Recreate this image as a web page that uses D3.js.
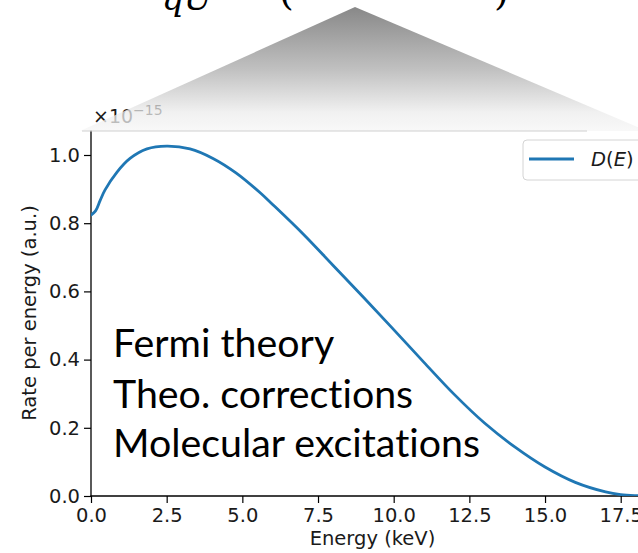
<!DOCTYPE html>
<html>
<head>
<meta charset="utf-8">
<script src="https://cdn.jsdelivr.net/npm/d3@7/dist/d3.min.js"></script>
<style>
  html, body { margin: 0; padding: 0; background: #ffffff; }
  svg { display: block; }
</style>
</head>
<body>
<svg id="chart" width="638" height="553"></svg>
<script>
// ---- data ----
const energy = [0, 0.15, 0.3, 0.46, 0.86, 1.29, 1.85, 2.5, 3.27, 4.03, 4.8, 5.58, 6, 7, 8, 9, 10, 11, 12, 13, 14, 15, 16, 17, 17.5, 18, 18.6];
const rate   = [0.824, 0.836, 0.866, 0.897, 0.950, 0.990, 1.018, 1.026, 1.018, 0.990, 0.947, 0.890, 0.855, 0.769, 0.676, 0.583, 0.488, 0.392, 0.298, 0.214, 0.144, 0.085, 0.040, 0.012, 0.004, 0.001, 0.0];
const xTicks = [0, 2.5, 5, 7.5, 10, 12.5, 15, 17.5];
const yTicks = [0, 0.2, 0.4, 0.6, 0.8, 1.0];
const seriesName = "D(E)";
const annotations = ["Fermi theory", "Theo. corrections", "Molecular excitations"];

(function () {
const svg = d3.select("#chart");
const pL = 91, pR = 654, pT = 130, pB = 496;

const x = d3.scaleLinear().domain([0, 18.6]).range([pL, pR]);
const y = d3.scaleLinear().domain([0, 1.0733]).range([pB, pT]);

const tickFont = "'DejaVu Sans', sans-serif";
const defs = svg.append("defs");

// axes
const xAxis = svg.append("g").attr("transform", `translate(0,${pB})`)
  .call(d3.axisBottom(x).tickValues(xTicks).tickFormat(d3.format(".1f")).tickSize(7).tickPadding(5).tickSizeOuter(0));
const yAxis = svg.append("g").attr("transform", `translate(${pL},0)`)
  .call(d3.axisLeft(y).tickValues(yTicks).tickFormat(d3.format(".1f")).tickSize(7).tickPadding(4).tickSizeOuter(0));
[xAxis, yAxis].forEach(g => {
  g.select(".domain").remove();
  g.selectAll(".tick line").attr("stroke", "#000").attr("stroke-width", 1.2);
  g.selectAll(".tick text").attr("fill", "#1a1a1a").style("font-family", tickFont).style("font-size", "19.5px");
});

// spines
svg.append("line").attr("x1", pL).attr("x2", pL).attr("y1", pT).attr("y2", pB + 0.6)
  .attr("stroke", "#000").attr("stroke-width", 1.3);
svg.append("line").attr("x1", pL - 0.6).attr("x2", 640).attr("y1", pB).attr("y2", pB)
  .attr("stroke", "#000").attr("stroke-width", 1.3);

// axis labels
svg.append("text").attr("x", (pL + pR) / 2).attr("y", 545).attr("text-anchor", "middle")
  .style("font-family", tickFont).style("font-size", "19.5px").attr("fill", "#1a1a1a")
  .text("Energy (keV)");
svg.append("text").attr("transform", `translate(36,${(pT + pB) / 2}) rotate(-90)`)
  .attr("text-anchor", "middle")
  .style("font-family", tickFont).style("font-size", "19.5px").attr("fill", "#1a1a1a")
  .text("Rate per energy (a.u.)");

// offset text
const off = svg.append("text").attr("x", 93).attr("y", 123)
  .style("font-family", tickFont).style("font-size", "19px").attr("fill", "#1a1a1a");
off.append("tspan").text("×10");
off.append("tspan").attr("dy", -8).style("font-size", "14px").text("−15");

// curve
const pts = energy.map((e, i) => [e, rate[i]]);
defs.append("clipPath").attr("id", "clip")
  .append("rect").attr("x", pL).attr("y", pT).attr("width", pR - pL).attr("height", pB - pT);
svg.append("path").datum(pts)
  .attr("clip-path", "url(#clip)")
  .attr("fill", "none").attr("stroke", "#1f77b4").attr("stroke-width", 2.8)
  .attr("stroke-linejoin", "round").attr("stroke-linecap", "round")
  .attr("d", d3.line().x(d => x(d[0])).y(d => y(d[1])).curve(d3.curveCatmullRom.alpha(0.5)));

// legend
const lg = svg.append("g");
lg.append("rect").attr("x", 523).attr("y", 140).attr("width", 124).attr("height", 40).attr("rx", 4)
  .attr("fill", "#fff").attr("fill-opacity", 0.85).attr("stroke", "#d4d4d4").attr("stroke-width", 1);
lg.append("line").attr("x1", 529).attr("x2", 574).attr("y1", 159).attr("y2", 159)
  .attr("stroke", "#1f77b4").attr("stroke-width", 2.8);
const lt = lg.append("text").attr("x", 591).attr("y", 166)
  .style("font-family", tickFont).style("font-size", "19.5px").attr("fill", "#1a1a1a");
lt.append("tspan").style("font-style", "italic").text("D");
lt.append("tspan").text("(");
lt.append("tspan").style("font-style", "italic").text("E");
lt.append("tspan").text(")");

// annotation text
const annFont = "Lato, 'Open Sans', sans-serif";
const probe = svg.append("text").style("font-family", annFont).style("font-size", "100px")
  .style("font-variant-ligatures", "none").text(annotations[2]);
const w100 = probe.node().getComputedTextLength();
probe.remove();
const annSize = 100 * 367 / w100;
const baselines = [357, 408, 457];
annotations.forEach((t, i) => {
  svg.append("text").attr("x", 113).attr("y", baselines[i])
    .style("font-family", annFont).style("font-size", annSize + "px")
    .style("font-variant-ligatures", "none").attr("fill", "#000")
    .text(t);
});

// slide decoration: gradient triangle and partial formula at top
const grad = defs.append("linearGradient").attr("id", "tri")
  .attr("gradientUnits", "userSpaceOnUse").attr("x1", 0).attr("y1", 7).attr("x2", 0).attr("y2", 131);
grad.append("stop").attr("offset", "0%").attr("stop-color", "#606060");
grad.append("stop").attr("offset", "50%").attr("stop-color", "#ababab");
grad.append("stop").attr("offset", "85%").attr("stop-color", "#ececec");
grad.append("stop").attr("offset", "100%").attr("stop-color", "#f6f6f6");
svg.append("path").attr("d", "M355,7 L647,131 L80,131 Z")
  .attr("fill", "url(#tri)").attr("fill-opacity", 0.75);
svg.append("line").attr("x1", 82).attr("x2", 587).attr("y1", 131).attr("y2", 131)
  .attr("stroke", "#cfcfcf").attr("stroke-width", 1.2);

const mathFont = "'DejaVu Serif', serif";
svg.append("text").attr("x", 162).attr("y", 10)
  .style("font-family", mathFont).style("font-style", "italic").style("font-size", "34px")
  .attr("fill", "#000").text("qU");
svg.append("text").attr("x", 279).attr("y", 5)
  .style("font-family", mathFont).style("font-size", "38px").attr("fill", "#000").text("(");
svg.append("text").attr("x", 494).attr("y", 5)
  .style("font-family", mathFont).style("font-size", "38px").attr("fill", "#000").text(")");
})();
</script>
</body>
</html>
